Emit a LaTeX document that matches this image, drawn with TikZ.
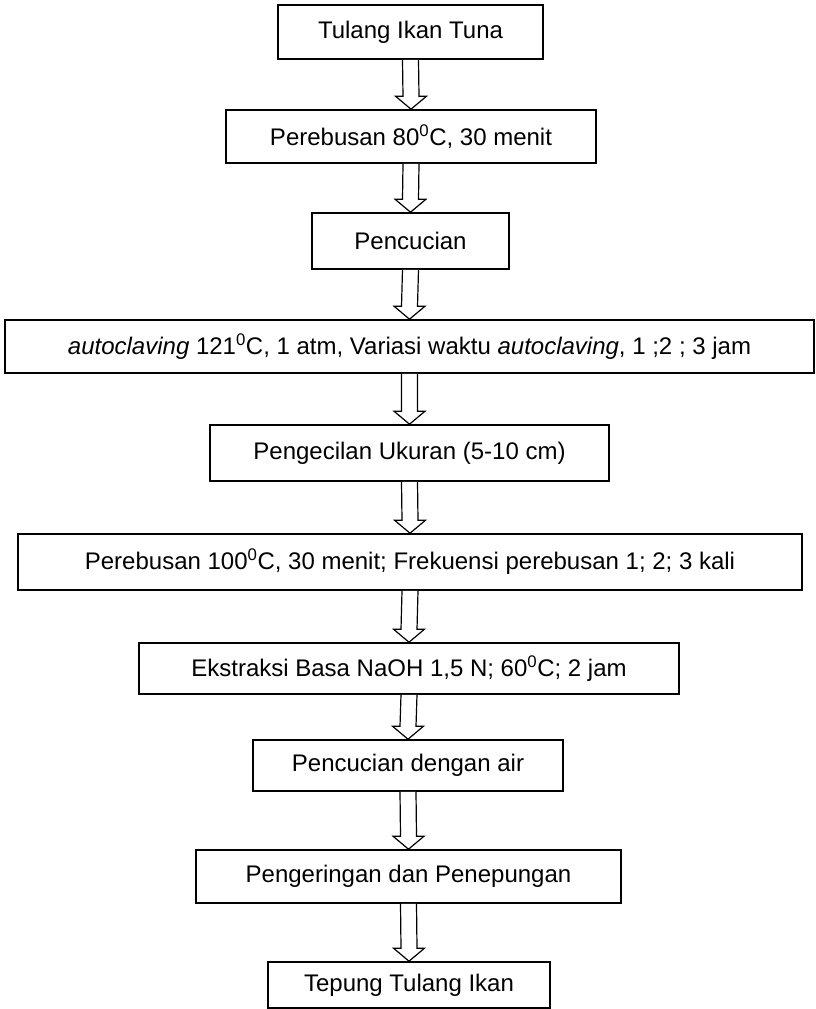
\documentclass[tikz,border=0pt]{standalone}
\usepackage{fontspec}
\setmainfont{Liberation Sans}
\usetikzlibrary{calc}

\tikzstyle{step box}=[draw,rectangle,line width=1.6pt,inner sep=0pt,
                      font=\fontsize{24}{28}\selectfont]
\tikzstyle{flow}=[draw,line width=1.2pt,fill=white,line join=miter]

% block arrow from the bottom of one box to the top of the next
\newcommand{\flowarrow}[2]{%
  \path[flow] ($(#1.south)+(-8,0)$) -- ($(#2.north)+(-8,-13)$)
    -- ($(#2.north)+(-15.5,-13)$) -- (#2.north)
    -- ($(#2.north)+(15.5,-13)$) -- ($(#2.north)+(8,-13)$)
    -- ($(#1.south)+(8,0)$);}

\begin{document}
\begin{tikzpicture}[x=1pt,y=-1pt]
  \useasboundingbox (0,0) rectangle (815,1009);

  % raw material
  \node[step box,minimum width=265pt,minimum height=54pt] (tulang) at (410.5,32) {Tulang Ikan Tuna};
  \node[step box,minimum width=370pt,minimum height=53pt] (rebus1) at (411,136.5) {Perebusan 80\textsuperscript{0}C, 30 menit};
  \node[step box,minimum width=197pt,minimum height=56pt] (cuci1) at (410.5,241) {Pencucian};

  % autoclaving
  \node[step box,minimum width=809pt,minimum height=53pt] (autoclave) at (409.5,346.5)
    {\textit{autoclaving} 121\textsuperscript{0}C, 1 atm, Variasi waktu \textit{autoclaving}, 1 ;2 ; 3 jam};
  \node[step box,minimum width=399pt,minimum height=56pt] (kecil) at (409.5,453) {Pengecilan Ukuran (5-10 cm)};
  \node[step box,minimum width=784pt,minimum height=56pt] (rebus2) at (410,562)
    {Perebusan 100\textsuperscript{0}C, 30 menit; Frekuensi perebusan 1; 2; 3 kali};

  % extraction
  \node[step box,minimum width=540pt,minimum height=51pt] (ekstrak) at (409,668.5)
    {Ekstraksi Basa NaOH 1,5 N; 60\textsuperscript{0}C; 2 jam};
  \node[step box,minimum width=310pt,minimum height=51pt] (cuci2) at (408,765.5) {Pencucian dengan air};
  \node[step box,minimum width=425pt,minimum height=53pt] (kering) at (408.5,876.5) {Pengeringan dan Penepungan};

  % product
  \node[step box,minimum width=282pt,minimum height=46pt] (tepung) at (409,985) {Tepung Tulang Ikan};

  \flowarrow{tulang}{rebus1}
  \flowarrow{rebus1}{cuci1}
  \flowarrow{cuci1}{autoclave}
  \flowarrow{autoclave}{kecil}
  \flowarrow{kecil}{rebus2}
  \flowarrow{rebus2}{ekstrak}
  \flowarrow{ekstrak}{cuci2}
  \flowarrow{cuci2}{kering}
  \flowarrow{kering}{tepung}

\end{tikzpicture}
\end{document}
